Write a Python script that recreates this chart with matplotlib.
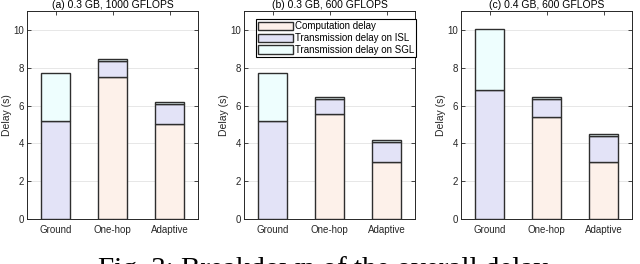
import numpy as np
import matplotlib

matplotlib.use("Agg")
import matplotlib.pyplot as plt

# ── Data ──
schemes = ["Ground", "One-hop", "Adaptive"]
titles = ["(a) 0.3 GB, 1000 GFLOPS", "(b) 0.3 GB, 600 GFLOPS", "(c) 0.4 GB, 600 GFLOPS"]
layer_names = ["Computation delay", "Transmission delay on ISL", "Transmission delay on SGL"]

# per panel: [Ground, One-hop, Adaptive]
comp_a = [0.0, 7.5, 5.0]
isl_a = [5.2, 0.85, 1.07]
sgl_a = [2.5, 0.12, 0.11]

comp_b = [0.0, 5.55, 3.0]
isl_b = [5.2, 0.8, 1.07]
sgl_b = [2.5, 0.12, 0.11]

comp_c = [0.0, 5.38, 3.0]
isl_c = [6.8, 0.97, 1.37]
sgl_c = [3.27, 0.12, 0.11]

panels = [(comp_a, isl_a, sgl_a), (comp_b, isl_b, sgl_b), (comp_c, isl_c, sgl_c)]

# ── Style ──
colors = ["#fdf1ea", "#e3e3f7", "#eefefe"]
edge = "#2e2e2e"
axis_col = "#262626"
plt.rcParams["font.family"] = ["Liberation Sans", "DejaVu Sans"]

fig = plt.figure(figsize=(6.4, 2.64), dpi=100)
W, H = 640.0, 264.0
lefts = [27, 244, 461]
ax_w, ax_top, ax_bot = 171, 11, 219

x = np.arange(1, len(schemes) + 1)
for i, (comp, isl, sgl) in enumerate(panels):
    ax = fig.add_axes([lefts[i] / W, 1 - ax_bot / H, ax_w / W, (ax_bot - ax_top) / H])
    bottom = np.zeros(len(schemes))
    handles = []
    for vals, col, name in zip((comp, isl, sgl), colors, layer_names):
        b = ax.bar(x, vals, width=0.5, bottom=bottom, color=col,
                   edgecolor=edge, linewidth=1.0, label=name, zorder=3)
        handles.append(b)
        bottom = bottom + np.array(vals)

    ax.set_xlim(0.5, 3.5)
    ax.set_ylim(0, 11)
    ax.set_xticks(x)
    ax.set_xticklabels(schemes)
    ax.set_yticks([0, 2, 4, 6, 8, 10])
    ax.tick_params(direction="in", top=True, right=True, length=3, width=0.6,
                   colors=axis_col, labelsize=7)
    ax.tick_params(axis="y", pad=2)
    ax.tick_params(axis="x", pad=4)
    ax.grid(True, axis="y", color="#e3e3e3", linewidth=0.6, zorder=0)
    for spine in ax.spines.values():
        spine.set_color(axis_col)
        spine.set_linewidth(0.7)
    ax.set_ylabel("Delay (s)", fontsize=7.5, color=axis_col, labelpad=1)
    ax.set_title(titles[i], fontsize=7.5, color="black", pad=2)

    if i == 1:
        leg = ax.legend(handles=handles, loc="upper left",
                        bbox_to_anchor=(0.07, 0.96), fontsize=7,
                        frameon=True, fancybox=False, framealpha=1,
                        edgecolor="black", handlelength=3.6, handleheight=1.0,
                        handletextpad=0.2, labelspacing=0.2, borderpad=0.2,
                        borderaxespad=0)
        leg.get_frame().set_linewidth(0.8)

# caption, cut off by the bottom edge as in the original
fig.text(98 / W, 1 - 256 / H, "Fig. 3: Breakdown of the overall delay",
         family="Liberation Serif", fontsize=21, va="top", ha="left")

fig.savefig("out.png", dpi=100)
